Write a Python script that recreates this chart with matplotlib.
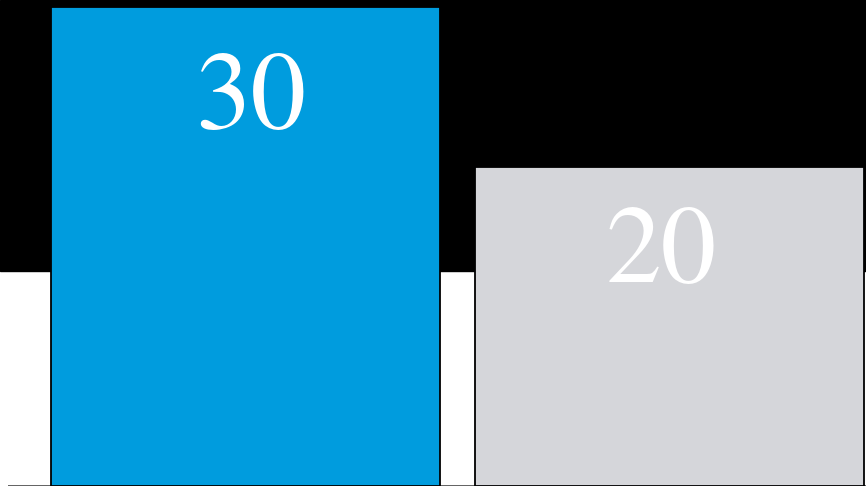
import matplotlib.pyplot as plt
from matplotlib.patches import Rectangle

# bar data
categories = ['A', 'B']
values = [30, 20]
colors = ['#009cde', '#d5d6da']

fig = plt.figure(figsize=(8.66, 4.93), dpi=100)
fig.patch.set_facecolor('white')

# black band across the top of the figure, behind the axes
band = Rectangle((0, 1 - 271 / 493), 1, 271 / 493,
                 transform=fig.transFigure, color='black', zorder=-5)
fig.add_artist(band)

ax = fig.add_axes([8 / 866, 7 / 493, 858 / 866, 479 / 493])
ax.set_zorder(1)
ax.patch.set_alpha(0)

x = list(range(len(values)))
ax.bar(x, values, width=0.917, color=colors, edgecolor='black', linewidth=1.3, zorder=2)
ax.axhline(0, color='#555555', linewidth=1.3, zorder=1)

# value labels inside the bars
label_dx = [0.013, -0.019]
label_dy = [7.56, 7.2]
for i, v in enumerate(values):
    ax.text(x[i] + label_dx[i], v - label_dy[i], str(v), ha='center', va='baseline',
            color='white', fontsize=80,
            fontfamily=['TeX Gyre Termes', 'STIXGeneral', 'DejaVu Serif'],
            zorder=3)

ax.set_xlim(-0.560, 1.4634)
ax.set_ylim(0, 30)
ax.axis('off')

fig.savefig('out.png', dpi=100)
